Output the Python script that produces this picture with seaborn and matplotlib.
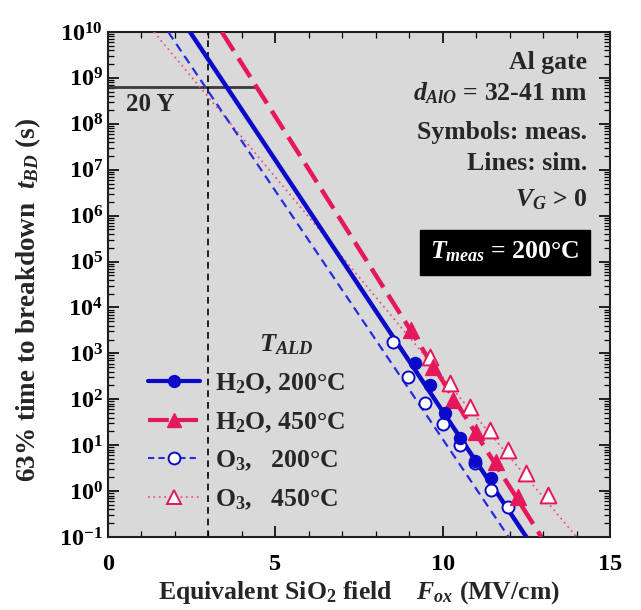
import matplotlib
matplotlib.use('agg')
import numpy as np
import matplotlib.pyplot as plt
import matplotlib.ticker as mticker
from matplotlib.lines import Line2D
import seaborn as sns

sns.set_theme(style='ticks')
plt.rcParams['font.family'] = ['Liberation Serif', 'DejaVu Serif']
plt.rcParams['font.weight'] = 'bold'
plt.rcParams['mathtext.fontset'] = 'custom'
plt.rcParams['mathtext.rm'] = 'Liberation Serif:bold'
plt.rcParams['mathtext.bf'] = 'Liberation Serif:bold'
plt.rcParams['mathtext.it'] = 'Liberation Serif:italic:bold'

# measured points (field in MV/cm, t_BD in s)
h2o200_E = [9.16, 9.61, 10.06, 10.51, 10.96, 11.45]
h2o200_t = [603, 204, 49, 14.1, 4.5, 1.9]
h2o450_E = [9.06, 9.71, 10.31, 11.0, 11.6, 12.25]
h2o450_t = [3236, 513, 95, 19.5, 4.4, 0.76]
o3200_E = [8.52, 8.96, 9.46, 10.01, 10.51, 10.96, 11.45, 11.95]
o3200_t = [1778, 309, 81, 29.5, 10, 4.0, 1.05, 0.46]
o3450_E = [9.61, 10.21, 10.81, 11.4, 11.95, 12.5, 13.14]
o3450_t = [851, 224, 69, 21.4, 7.8, 2.45, 0.81]

# simulated lines (end points)
sim_t = [1e10, 1e-1]
sim_h2o200_E = [2.45, 12.5]
sim_h2o450_E = [3.4, 12.95]
sim_o3200_E = [1.8, 11.97]
sim_o3450_E = [1.37, 14.0]

t_20y = 6.3e8
E_20y_end = 4.4
E_ref = 3.0

blue = '#0a0ac8'
blue2 = '#2a2ae6'
red = '#e4185a'
pink = '#e8587e'

fig = plt.figure(figsize=(6.41, 6.10), dpi=100)
ax = fig.add_axes([0.1685, 0.1197, 0.7832, 0.8279])
ax.set_facecolor('#d9d9d9')

ax.set_yscale('log')
ax.set_xlim(0, 15)
ax.set_ylim(1e-1, 1e10)

# guides
ax.plot([0, E_20y_end], [t_20y, t_20y], color='#3a3a3a', lw=2, zorder=2)
ax.plot([E_ref, E_ref], [1e-1, 1e10], color='black', lw=1.2, dashes=(4, 3), zorder=2)

# simulated lines
sns.lineplot(x=sim_o3450_E, y=sim_t, ax=ax, color=pink, lw=1.3,
             linestyle=(0, (1, 2)), zorder=3)
sns.lineplot(x=sim_o3200_E, y=sim_t, ax=ax, color=blue2, lw=1.6,
             linestyle=(0, (4, 2.5)), zorder=3)
sns.lineplot(x=sim_h2o450_E, y=sim_t, ax=ax, color=red, lw=3.2,
             linestyle=(0, (5, 2)), zorder=3)
sns.lineplot(x=sim_h2o200_E, y=sim_t, ax=ax, color=blue, lw=3.2, zorder=3)

# measured symbols
sns.scatterplot(x=o3450_E, y=o3450_t, ax=ax, marker='^', s=130, color='white',
                edgecolor=red, linewidth=1.4, zorder=4)
sns.scatterplot(x=o3200_E, y=o3200_t, ax=ax, marker='o', s=75, color='white',
                edgecolor=blue, linewidth=1.4, zorder=4)
sns.scatterplot(x=h2o450_E, y=h2o450_t, ax=ax, marker='^', s=130, color=red,
                edgecolor=red, linewidth=1, zorder=5)
sns.scatterplot(x=h2o200_E, y=h2o200_t, ax=ax, marker='o', s=75, color=blue,
                edgecolor=blue, linewidth=1, zorder=5)

# ticks
ax.xaxis.set_major_locator(mticker.MultipleLocator(5))
ax.xaxis.set_minor_locator(mticker.MultipleLocator(1))
ax.yaxis.set_major_locator(mticker.LogLocator(base=10, numticks=20))
ax.yaxis.set_minor_locator(mticker.LogLocator(base=10, subs=np.arange(2, 10), numticks=20))
ax.yaxis.set_minor_formatter(mticker.NullFormatter())
ax.yaxis.set_major_formatter(mticker.FuncFormatter(lambda v, p: r'$\mathbf{10^{%d}}$' % round(np.log10(v))))
ax.tick_params(which='both', direction='in', top=True, right=True, colors='black',
               labelsize=17.5)
ax.tick_params(axis='x', pad=12)
ax.tick_params(which='major', length=8, width=1.2)
ax.tick_params(which='minor', length=4, width=0.9)
for s in ax.spines.values():
    s.set_color('#202020')
    s.set_linewidth(1.5)

ax.set_xlabel(r'Equivalent SiO$_2$ field    $\mathit{F}_{\mathit{ox}}$ (MV/cm)',
              fontsize=18.5, fontweight='bold', labelpad=3)
ax.set_ylabel(r'63% time to breakdown  $\mathit{t}_{\mathit{BD}}$ (s)',
              fontsize=19.5, fontweight='bold')
ax.yaxis.set_label_coords(-0.13, 0.47)

# annotations
ax.text(0.55, 2.6e8, '20 Y', fontsize=18, fontweight='bold', va='center', ha='left')
tx = 0.955
ax.text(tx, 0.94, 'Al gate', transform=ax.transAxes, ha='right', va='center', fontsize=18.5)
ax.text(tx, 0.878, r'$\mathit{d}_{\mathit{AlO}}$ = 32-41 nm', transform=ax.transAxes,
        ha='right', va='center', fontsize=18.5)
ax.text(tx, 0.80, 'Symbols: meas.', transform=ax.transAxes, ha='right', va='center', fontsize=18.5)
ax.text(tx, 0.74, 'Lines: sim.', transform=ax.transAxes, ha='right', va='center', fontsize=18.5)
ax.text(tx, 0.667, r'$\mathit{V}_{\mathit{G}}$ > 0', transform=ax.transAxes,
        ha='right', va='center', fontsize=18.5)
ax.text(0.79, 0.564, r'$\mathit{T}_{\mathit{meas}}$ = 200°C', transform=ax.transAxes,
        ha='center', va='center', fontsize=18.5, color='white',
        bbox=dict(boxstyle='square,pad=0.4', facecolor='black', edgecolor='black'))

ax.text(0.355, 0.38, r'$\mathit{T}_{\mathit{ALD}}$', transform=ax.transAxes,
        ha='center', va='center', fontsize=19)

handles = [
    Line2D([], [], color=blue, lw=3, marker='o', ms=8.5),
    Line2D([], [], color=red, lw=3, linestyle=(0, (5, 2)), marker='^', ms=10.5),
    Line2D([], [], color=blue2, lw=1.5, linestyle=(0, (3, 2)), marker='o', ms=8.5,
           markerfacecolor='white', markeredgecolor=blue, markeredgewidth=1.4),
    Line2D([], [], color=pink, lw=1.3, linestyle=(0, (1, 2)), marker='^', ms=10.5,
           markerfacecolor='white', markeredgecolor=red, markeredgewidth=1.4),
]
labels = ['H$_2$O, 200°C', 'H$_2$O, 450°C', 'O$_3$,   200°C', 'O$_3$,   450°C']
ax.legend(handles, labels, loc='lower left', bbox_to_anchor=(0.06, 0.03),
          frameon=False, fontsize=18.5, handlelength=2.0, handletextpad=0.6,
          labelspacing=0.55, borderaxespad=0)

fig.savefig('out.png', dpi=100)
